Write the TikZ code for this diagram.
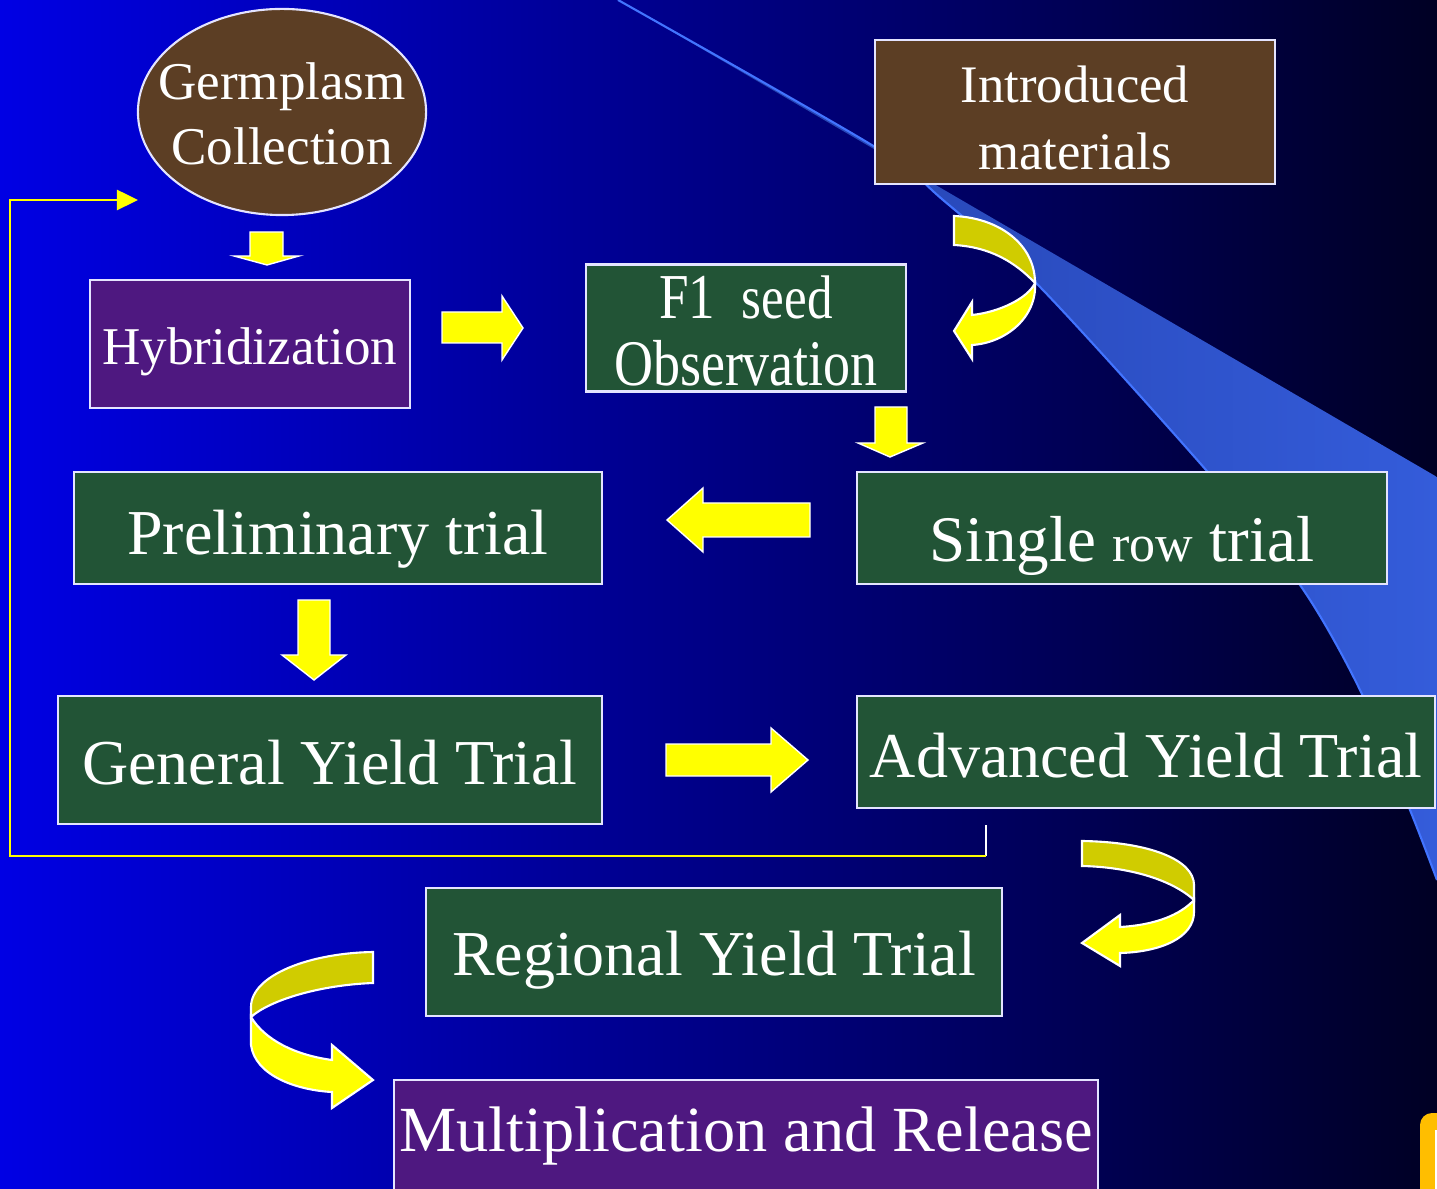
\documentclass[tikz,border=0pt]{standalone}
\usepackage{fontspec}
\setmainfont{Liberation Serif}
\usetikzlibrary{shapes.geometric,arrows.meta}

\definecolor{bgleft}{RGB}{0,0,228}
\definecolor{bgmid}{RGB}{0,0,160}
\definecolor{bgright}{RGB}{0,0,36}
\definecolor{bandA}{RGB}{34,62,168}
\definecolor{bandB}{RGB}{52,92,218}
\definecolor{arcblue}{RGB}{66,116,255}
\definecolor{marble}{RGB}{34,84,54}
\definecolor{bark}{RGB}{92,62,36}
\definecolor{plum}{RGB}{78,24,128}
\definecolor{lemon}{RGB}{255,255,0}
\definecolor{olive}{RGB}{208,204,0}
\definecolor{rim}{RGB}{228,228,255}
\definecolor{logo}{RGB}{255,190,0}

\tikzset{
  box/.style={draw=rim, line width=0.6pt, inner sep=0pt},
  tag/.style={text=white, inner sep=0pt, align=center},
  big/.style={font=\fontsize{18.2}{21}\selectfont},
  mid/.style={font=\fontsize{15.1}{18.5}\selectfont},
  blockarr/.style={fill=lemon, draw=white, line width=0.4pt},
  ribbondark/.style={fill=olive, draw=white, line width=0.6pt},
  ribbonlight/.style={fill=lemon, draw=white, line width=0.6pt}
}

\begin{document}
\begin{tikzpicture}[x=0.01cm, y=-0.01cm]

\useasboundingbox (0,0) rectangle (1437,1189);
\clip (0,0) rectangle (1437,1189);

% BACKGROUND %%%%%%%%%%%%%%%%%%%%%%%%%%%%%%%%%%%%%%%%%%%%%%%%%%%%%%%%%%%%%

\shade[left color=bgleft, middle color=bgmid, right color=bgright] (0,0) rectangle (1437,1189);
\shade[left color=bandA, right color=bandB] (618,0) -- (1437,477) -- (1437,880) -- plot[smooth] coordinates {(1437,880) (1410,810) (1360,690) (1300,585) (1206,470) (1040,287) (943,200) (875,147) (618,0)} -- cycle;
\draw[arcblue, line width=0.6pt] plot[smooth] coordinates {(618,0) (875,147) (943,200) (1040,287) (1206,470) (1300,585) (1360,690) (1410,810) (1437,880)};

\fill[logo, rounded corners=1.2mm] (1420,1113) rectangle (1470,1210);
\fill[white] (1435,1130) rectangle (1470,1210);

% NODES %%%%%%%%%%%%%%%%%%%%%%%%%%%%%%%%%%%%%%%%%%%%%%%%%%%%%%%%%%%%%%%%%%

\node[ellipse, box, fill=bark, minimum width=2.88cm, minimum height=2.06cm] (germ) at (282,112) {};
\node[box, fill=bark, minimum width=4.0cm, minimum height=1.44cm] (intro) at (1075,112) {};
\node[box, fill=plum, minimum width=3.2cm, minimum height=1.28cm] (hyb) at (250,344) {};
\node[box, fill=marble, minimum width=3.2cm, minimum height=1.27cm] (fone) at (746,328) {};
\node[box, fill=marble, minimum width=5.28cm, minimum height=1.12cm] (prelim) at (338,528) {};
\node[box, fill=marble, minimum width=5.29cm, minimum height=1.12cm] (single) at (1122,528) {};
\node[box, fill=marble, minimum width=5.44cm, minimum height=1.28cm] (general) at (330,760) {};
\node[box, fill=marble, minimum width=5.77cm, minimum height=1.12cm] (adv) at (1146,752) {};
\node[box, fill=marble, minimum width=5.76cm, minimum height=1.28cm] (regional) at (714,952) {};
\node[box, fill=plum, minimum width=7.04cm, minimum height=1.2cm] (mult) at (746,1140) {};

% ETIQUETTES

\node[tag, mid] (germtext) at ([yshift=-0.02cm]germ.center) {Germplasm\\Collection};
\node[tag, font=\fontsize{15}{19}\selectfont] (introtext) at ([yshift=-0.06cm]intro.center) {Introduced\\materials};
\node[tag, mid] (hybtext) at ([yshift=-0.08cm]hyb.center) {Hybridization};
\node[tag, font=\fontsize{18.2}{19.3}\selectfont] (fonetext) at ([yshift=-0.03cm]fone.center) {\scalebox{0.83}[1]{F1\hspace{9pt}{\fontsize{17.5}{19}\selectfont seed}}\\\scalebox{0.83}[1]{\fontsize{18.5}{19.3}\selectfont Observation}};
\node[tag, big] (prelimtext) at ([yshift=-0.11cm]prelim.center) {Preliminary trial};
\node[tag, font=\fontsize{18.5}{21}\selectfont] (singletext) at ([yshift=-0.18cm]single.center) {Single {\fontsize{14.8}{18}\selectfont row} trial};
\node[tag, big] (generaltext) at ([yshift=-0.03cm]general.center) {General Yield Trial};
\node[tag, big] (advtext) at ([yshift=-0.04cm]adv.center) {Advanced Yield Trial};
\node[tag, big] (regionaltext) at ([yshift=-0.08cm]regional.center) {Regional Yield Trial};
\node[tag, font=\fontsize{18.3}{21}\selectfont] (multtext) at ([yshift=0.04cm]mult.center) {Multiplication and Release};

% LINKS %%%%%%%%%%%%%%%%%%%%%%%%%%%%%%%%%%%%%%%%%%%%%%%%%%%%%%%%%%%%%%%%%%

% germ -> hyb
\path[blockarr] (250,232) -- (283,232) -- (283,256) -- (299,256) -- (267,265) -- (234,256) -- (250,256) -- cycle;
% hyb -> fone
\path[blockarr] (442,312) -- (502,312) -- (502,296) -- (523,328) -- (502,360) -- (502,343) -- (442,343) -- cycle;
% fone -> single
\path[blockarr] (875,407) -- (907,407) -- (907,443) -- (923,443) -- (890,457) -- (858,443) -- (875,443) -- cycle;
% single -> prelim
\path[blockarr] (810,503) -- (810,537) -- (703,537) -- (703,552) -- (667,520) -- (703,488) -- (703,503) -- cycle;
% prelim -> general
\path[blockarr] (298,600) -- (330,600) -- (330,655) -- (346,655) -- (314,680) -- (282,655) -- (298,655) -- cycle;
% general -> adv
\path[blockarr] (666,744) -- (771,744) -- (771,728) -- (808,760) -- (771,792) -- (771,776) -- (666,776) -- cycle;

% intro -> fone (turning ribbon)
\path[ribbondark] (954,216) .. controls (1000,218) and (1035,245) .. (1035,283) .. controls (1015,262) and (990,247) .. (954,245) -- cycle;
\path[ribbonlight] (1035,283) .. controls (1037,318) and (1005,343) .. (972,345) -- (972,359) -- (954,331) -- (972,302) -- (972,315) .. controls (1000,312) and (1028,298) .. (1035,283) -- cycle;

% adv -> regional (turning ribbon)
\path[ribbondark] (1082,841) .. controls (1150,842) and (1194,860) .. (1194,885) -- (1194,900) .. controls (1172,880) and (1130,867) .. (1082,866) -- cycle;
\path[ribbonlight] (1194,900) -- (1194,912) .. controls (1194,938) and (1160,952) .. (1120,953) -- (1120,966) -- (1082,943) -- (1120,915) -- (1120,927) .. controls (1155,925) and (1180,915) .. (1194,900) -- cycle;

% regional -> mult (turning ribbon)
\path[ribbondark] (373,952) .. controls (310,953) and (251,975) .. (251,1007) -- (251,1017) .. controls (270,1000) and (320,985) .. (373,983) -- cycle;
\path[ribbonlight] (251,1017) -- (251,1045) .. controls (255,1075) and (295,1090) .. (332,1092) -- (332,1108) -- (373,1080) -- (332,1045) -- (332,1060) .. controls (295,1055) and (265,1040) .. (251,1017) -- cycle;

% feedback adv -> germ
\coordinate (F0) at (986,825);
\coordinate (F1) at (986,856);
\coordinate (F2) at (10,856);
\coordinate (F3) at (10,200);
\coordinate (F4) at (138,200);

\draw[white, line width=0.7pt] (F0) -- (F1);
\draw[lemon, line width=0.7pt, -{Triangle[length=0.21cm, width=0.2cm]}] (F1) -- (F2) -- (F3) -- (F4);

\end{tikzpicture}
\end{document}
